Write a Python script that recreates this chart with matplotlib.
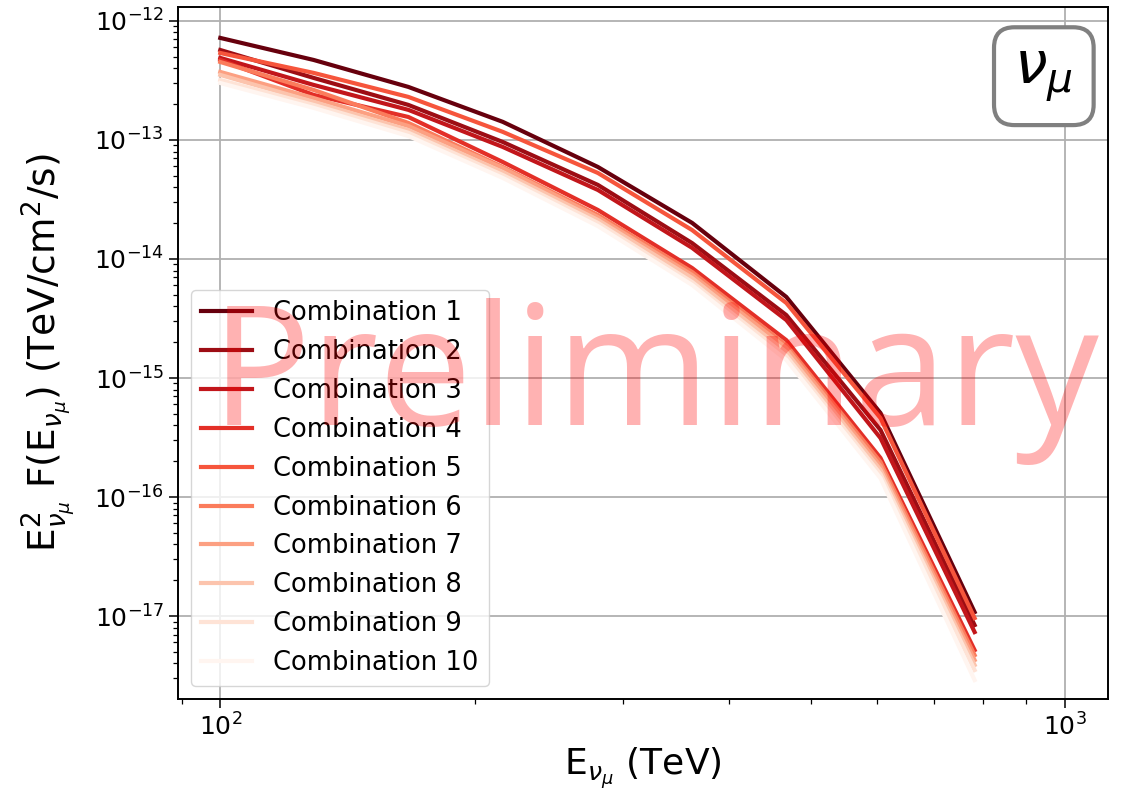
"""Muon-neutrino flux spectra for the ten source combinations."""
import matplotlib
matplotlib.use("Agg")
import matplotlib.pyplot as plt
import numpy as np

# neutrino energy (TeV)
energy = [100, 129, 167, 216, 280, 362, 468, 605, 782]

# E^2 F(E) in TeV/cm^2/s
flux_1 = [7.20e-13, 4.70e-13, 2.79e-13, 1.42e-13, 5.93e-14, 2.01e-14, 4.80e-15, 5.08e-16, 1.08e-17]
flux_2 = [5.70e-13, 3.32e-13, 1.97e-13, 9.62e-14, 4.19e-14, 1.36e-14, 3.38e-15, 3.66e-16, 8.40e-18]
flux_3 = [4.89e-13, 2.90e-13, 1.79e-13, 8.74e-14, 3.80e-14, 1.24e-14, 3.07e-15, 3.13e-16, 7.34e-18]
flux_4 = [4.70e-13, 2.39e-13, 1.56e-13, 6.53e-14, 2.58e-14, 8.40e-15, 2.08e-15, 2.13e-16, 5.18e-18]
flux_5 = [5.38e-13, 3.66e-13, 2.30e-13, 1.17e-13, 5.28e-14, 1.75e-14, 4.27e-15, 4.61e-16, 9.62e-18]
flux_6 = [4.52e-13, 2.63e-13, 1.39e-13, 5.93e-14, 2.34e-14, 7.78e-15, 1.89e-15, 1.97e-16, 4.70e-18]
flux_7 = [3.73e-13, 2.25e-13, 1.31e-13, 5.82e-14, 2.25e-14, 7.34e-15, 1.79e-15, 1.82e-16, 4.27e-18]
flux_8 = [3.52e-13, 2.09e-13, 1.21e-13, 5.38e-14, 2.13e-14, 6.92e-15, 1.65e-15, 1.69e-16, 3.88e-18]
flux_9 = [3.19e-13, 1.97e-13, 1.15e-13, 5.08e-14, 2.01e-14, 6.41e-15, 1.53e-15, 1.56e-16, 3.52e-18]
flux_10 = [3.01e-13, 1.86e-13, 1.08e-13, 4.80e-14, 1.89e-14, 6.05e-15, 1.42e-15, 1.44e-16, 2.90e-18]

fluxes = [flux_1, flux_2, flux_3, flux_4, flux_5,
          flux_6, flux_7, flux_8, flux_9, flux_10]
labels = [f"Combination {i}" for i in range(1, 11)]
colors = plt.cm.Reds(np.linspace(1, 0, len(fluxes)))

fig = plt.figure(figsize=(11.32, 8.02), dpi=100)
ax = fig.add_axes([0.1572, 0.1284, 0.8216, 0.8629])

for flux, lab, col in zip(fluxes, labels, colors):
    ax.plot(energy, flux, color=col, lw=3, label=lab)

ax.set_xscale("log")
ax.set_yscale("log")
ax.set_xlim(89.1, 1125)
ax.set_ylim(2.01e-18, 1.31e-12)

ax.grid(True, which="major", color="#b0b0b0", lw=1.3)
ax.set_axisbelow(True)
for sp in ax.spines.values():
    sp.set_linewidth(1.4)
ax.tick_params(which="major", length=6.5, width=1.1, labelsize=18)
ax.tick_params(which="minor", length=3.5, width=0.9)

ax.set_xlabel(r"E$_{\nu_\mu}$ (TeV)", fontsize=26)
ax.set_ylabel(r"E$^2_{\nu_\mu}$ F(E$_{\nu_\mu}$) (TeV/cm$^2$/s)", fontsize=27)
ax.yaxis.set_label_coords(-0.108, 0.5)

ax.legend(loc="lower left", fontsize=18.5, handlelength=2.0)

ax.text(0.931, 0.900, r"$\nu_\mu$", transform=ax.transAxes,
        fontsize=42, ha="center", va="center",
        bbox=dict(boxstyle="round,pad=0.35", fc="white", ec="gray", lw=3))

ax.text(0.513, 0.396, "Preliminary", transform=ax.transAxes,
        fontsize=120, family="Open Sans", color="red", alpha=0.3,
        ha="center", va="baseline", zorder=10)

fig.savefig("out.png", dpi=100)
print("Saved: out.png")
